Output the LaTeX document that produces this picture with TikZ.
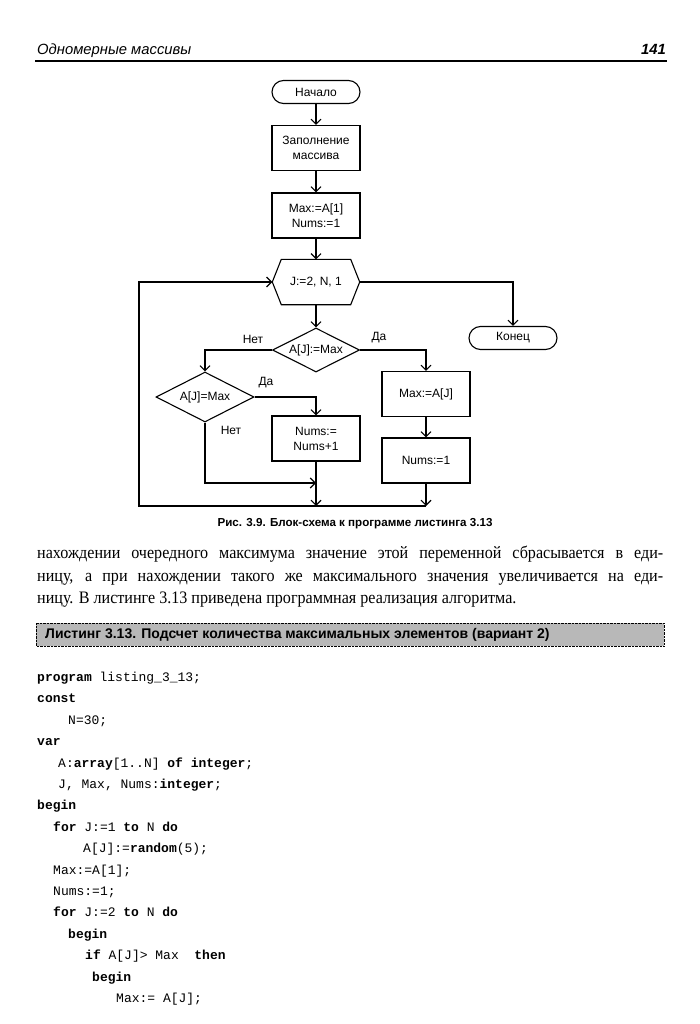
\documentclass[tikz,border=0pt]{standalone}
\usepackage{fontspec}
\setmainfont{Liberation Serif}
\setsansfont{Liberation Sans}
\setmonofont{Liberation Mono}
\newfontfamily\bodyfont[FakeStretch=0.92]{Liberation Serif}
\usetikzlibrary{calc, positioning}
\usetikzlibrary{arrows.meta}
\usetikzlibrary{shapes.geometric}

\newcommand{\kw}[1]{\textbf{#1}}

\tikzset{
  line/.style={line width=1.1pt, black},
  arr/.style={line, -{Straight Barb[length=5pt,width=10pt]}},
  chart/.style={font=\sffamily\fontsize{12}{15}\selectfont},
  block/.style={chart, draw, line width=1.1pt, rectangle, align=center,
    inner sep=1pt, minimum width=88pt, minimum height=45pt},
  term/.style={block, rounded corners=11.5pt, minimum height=23pt},
  decision/.style={chart, draw, line width=1.1pt, diamond, aspect=2,
    inner sep=0pt, minimum width=87pt, minimum height=44pt},
  hexa/.style={chart, inner sep=0pt, minimum width=87pt, minimum height=45pt},
  lab/.style={chart},
  code/.style={anchor=base west, inner sep=0pt,
    font=\ttfamily\fontsize{13}{15}\selectfont}
}

\begin{document}
\begin{tikzpicture}[x=1pt,y=-1pt]
\def\codetop{681.5}
\def\codestep{21.4}
\fill[white] (0,0) rectangle (700,1024);
\useasboundingbox (0,0) rectangle (700,1024);

% Page header
\node[anchor=base west, inner sep=0pt, font=\sffamily\itshape\fontsize{14.8}{16}\selectfont]
  (head) at (37,55) {Одномерные массивы};
\node[anchor=base east, inner sep=0pt, font=\sffamily\bfseries\itshape\fontsize{14.8}{16}\selectfont]
  (page) at (666,55) {141};
\draw[line width=1.3pt] (35,61) -- (667,61);

% Flowchart blocks
\node[term]  (start)  at (316,92)    {Начало};
\node[block] (fill)   at (316,148)   {Заполнение\\массива};
\node[block] (init)   at (316,215.5) {Max:=A[1]\\Nums:=1};
\node[hexa]  (loop)   at (316,282)   {J:=2, N, 1};
\draw[line] (loop.west) -- ($(loop.north west)+(9,0)$)
  -- ($(loop.north east)+(-9,0)$) -- (loop.east)
  -- ($(loop.south east)+(-9,0)$) -- ($(loop.south west)+(9,0)$) -- cycle;
\node[term]  (stop)   at (513,338)   {Конец};
\node[decision] (cmpa) at (316,350) {A[J]:=Max};
\node[decision, minimum width=98pt, minimum height=50pt] (cmpb) at (205,397) {A[J]=Max};
\node[block] (setmax) at (426,394)   {Max:=A[J]};
\node[block] (inc)    at (316,438.5) {Nums:=\\Nums+1};
\node[block] (reset)  at (426,460.5) {Nums:=1};

% Branch labels
\node[lab] (nota) at (253,339) {Нет};
\node[lab] (yesa) at (379,338) {Да};
\node[lab] (yesb) at (266,383) {Да};
\node[lab] (notb) at (231,430) {Нет};

% Joints
\coordinate (jnot) at (316,483);
\coordinate (jinc) at (316,506);
\coordinate (jend) at (426,506);
\coordinate (back) at (139,506);

% Connectors
\draw[arr] (start) -- (fill);
\draw[arr] (fill) -- (init);
\draw[arr] (init.south) -- (loop.north);
\draw[arr] (loop.east) -| (stop.north);
\draw[arr] (loop.south) -- (cmpa.north);
\draw[arr] (cmpa.west) -| (cmpb.north);
\draw[arr] (cmpa.east) -| (setmax.north);
\draw[arr] (setmax) -- (reset);
\draw[arr] (cmpb.east) -| (inc.north);
\draw[arr] (cmpb.south) |- (jnot);
\draw[arr] (inc.south) -- (jinc);
\draw[arr] (reset.south) -- (jend);
\draw[arr] (jend) -- (back) |- (loop.west);

% Caption
\node[font=\sffamily\bfseries\fontsize{11.6}{13}\selectfont] (cap) at (355,524)
  {Рис. 3.9. Блок-схема к программе листинга 3.13};

% Body text
\node[anchor=north west, inner sep=0pt, text width=626pt, align=justify,
  font=\bodyfont\fontsize{17.5}{22.5}\selectfont] (para) at (37,546)
  {нахождении очередного максимума значение этой переменной сбрасывается в еди-\linebreak
   ницу, а при нахождении такого же максимального значения увеличивается на еди-\linebreak
   ницу. В листинге 3.13 приведена программная реализация алгоритма.};

% Listing title bar
\draw[densely dotted, fill=black!28] (36,623) rectangle (664,646);
\node[anchor=west, inner sep=0pt, font=\sffamily\bfseries\fontsize{14}{16}\selectfont]
  (title) at (45,635) {Листинг 3.13. Подсчет количества максимальных элементов (вариант 2)};

% Listing
\node[code] (c1)  at (37, \codetop+0*\codestep)  {\kw{program} listing\_3\_13;};
\node[code] (c2)  at (37, \codetop+1*\codestep)  {\kw{const}};
\node[code] (c3)  at (68, \codetop+2*\codestep)  {N=30;};
\node[code] (c4)  at (37, \codetop+3*\codestep)  {\kw{var}};
\node[code] (c5)  at (58, \codetop+4*\codestep)  {A:\kw{array}[1..N] \kw{of} \kw{integer};};
\node[code] (c6)  at (58, \codetop+5*\codestep)  {J, Max, Nums:\kw{integer};};
\node[code] (c7)  at (37, \codetop+6*\codestep)  {\kw{begin}};
\node[code] (c8)  at (53, \codetop+7*\codestep)  {\kw{for} J:=1 \kw{to} N \kw{do}};
\node[code] (c9)  at (83, \codetop+8*\codestep)  {A[J]:=\kw{random}(5);};
\node[code] (c10) at (53, \codetop+9*\codestep)  {Max:=A[1];};
\node[code] (c11) at (53, \codetop+10*\codestep) {Nums:=1;};
\node[code] (c12) at (53, \codetop+11*\codestep) {\kw{for} J:=2 \kw{to} N \kw{do}};
\node[code] (c13) at (68, \codetop+12*\codestep) {\kw{begin}};
\node[code] (c14) at (85, \codetop+13*\codestep) {\kw{if} A[J]> Max\ \ \kw{then}};
\node[code] (c15) at (92, \codetop+14*\codestep) {\kw{begin}};
\node[code] (c16) at (116,\codetop+15*\codestep) {Max:= A[J];};
\end{tikzpicture}
\end{document}
